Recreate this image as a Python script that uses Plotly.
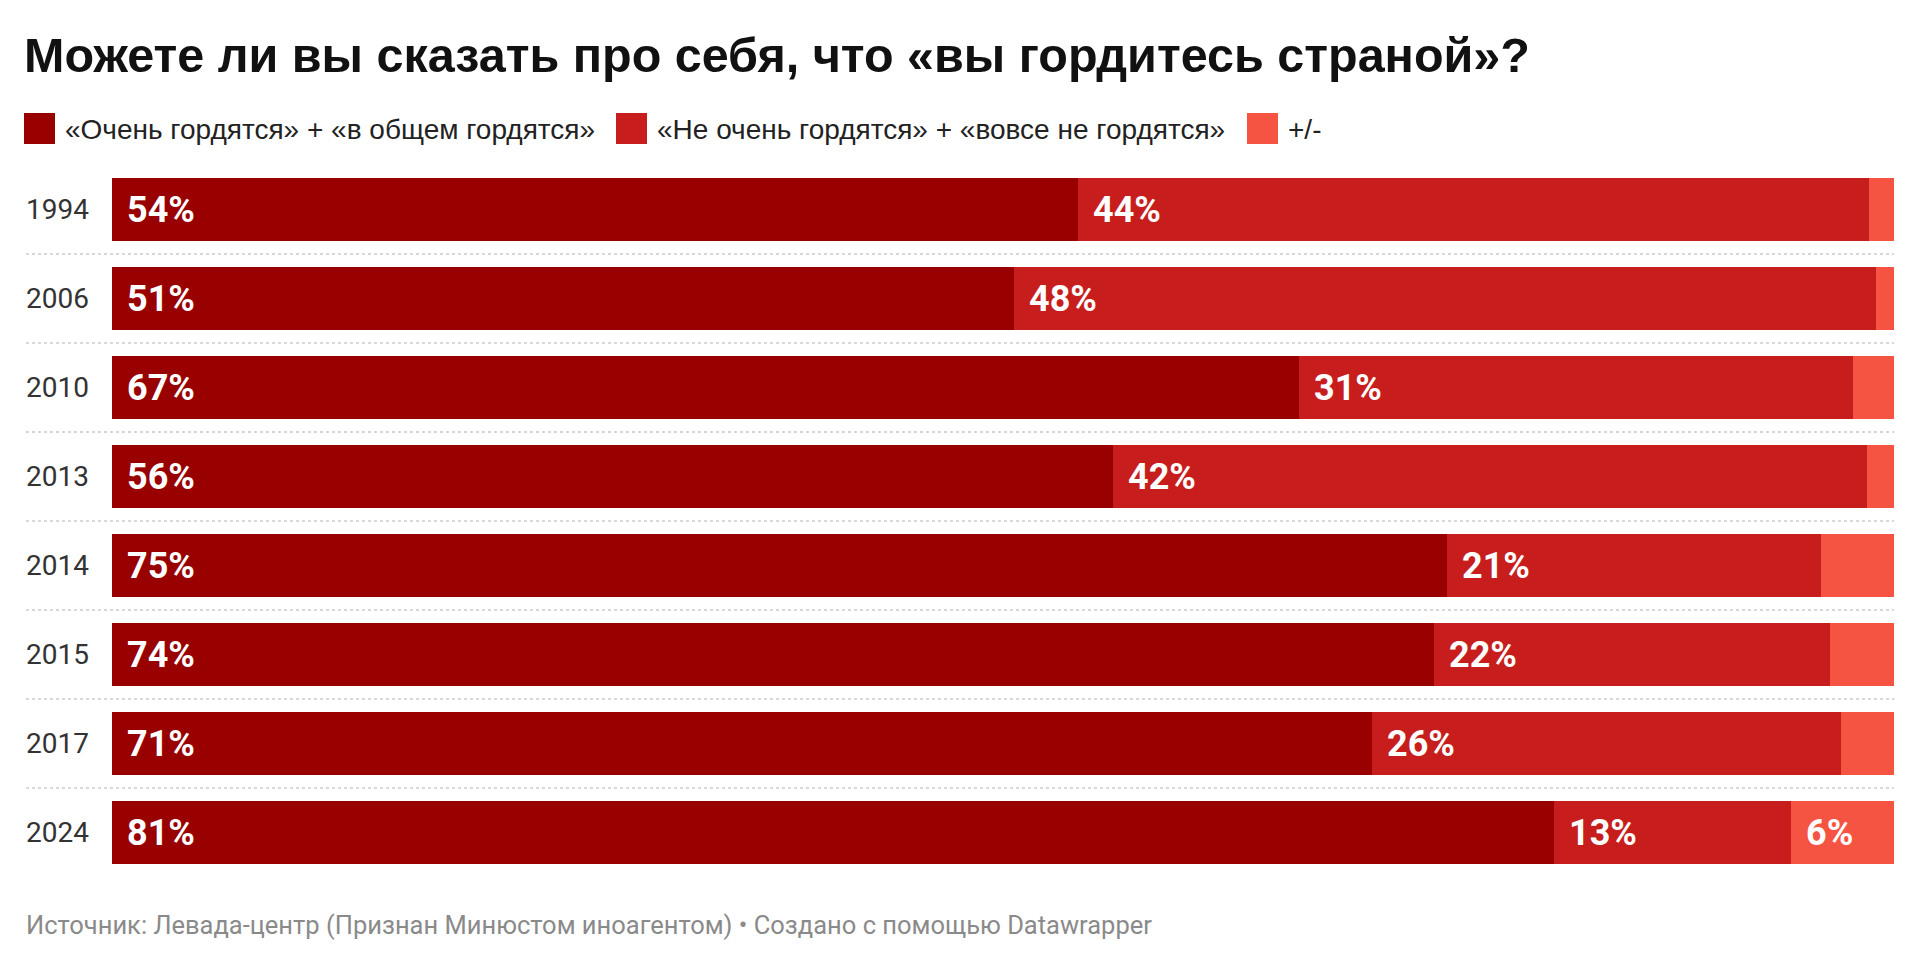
import plotly.graph_objects as go

# ---- data ----
years = ["1994", "2006", "2010", "2013", "2014", "2015", "2017", "2024"]
proud = [54.2, 50.6, 66.6, 56.2, 74.9, 74.2, 70.7, 80.9]
not_proud = [44.4, 48.4, 31.1, 42.3, 21.0, 22.2, 26.3, 13.3]
unsure = [1.4, 1.0, 2.3, 1.5, 4.1, 3.6, 3.0, 5.8]
series_names = [
    "«Очень гордятся» + «в общем гордятся»",
    "«Не очень гордятся» + «вовсе не гордятся»",
    "+/-",
]
title_text = "Можете ли вы сказать про себя, что «вы гордитесь страной»?"
footer_text = "Источник: Левада-центр (Признан Минюстом иноагентом) • Создано с помощью Datawrapper"

colors = ["#990000", "#c71e1d", "#f65442"]
series = [proud, not_proud, unsure]

W, H = 1920, 965
L, R, T, B = 112, 26, 165, 88
PW, PH = W - L - R, H - T - B


def px(x):
    return (x - L) / PW


def py(y):
    return (H - B - y) / PH


ypos = list(range(len(years)))

fig = go.Figure()
for name, vals, col in zip(series_names, series, colors):
    fig.add_trace(go.Bar(
        y=ypos, x=vals, name=name, orientation="h",
        marker=dict(color=col, line=dict(width=0)),
        customdata=years,
        hovertemplate="%{customdata}: %{x}%<extra>" + name + "</extra>",
        showlegend=False,
    ))

annotations = []
shapes = []

# value labels
for i, yr in enumerate(years):
    base = 0.0
    for vals in series:
        v = vals[i]
        if v >= 5:
            annotations.append(dict(
                x=base, y=i, xref="x", yref="y", text=f"{round(v)}%",
                showarrow=False, xanchor="left", yanchor="middle", xshift=13,
                font=dict(family="Roboto", size=36, color="white", weight="bold"),
            ))
        base += v

# year labels
for i, yr in enumerate(years):
    annotations.append(dict(
        x=px(24), y=i, xref="paper", yref="y", text=yr, showarrow=False,
        xanchor="left", yanchor="middle",
        font=dict(family="Roboto", size=28, color="#333333"),
    ))

# separators
for i in range(len(years) - 1):
    shapes.append(dict(
        type="line", xref="paper", yref="y", x0=px(26), x1=1,
        y0=i + 0.5, y1=i + 0.5, line=dict(color="#cccccc", width=1.5, dash="dot"),
    ))

# legend
leg_sq_x = [24, 616, 1247]
for name, col, sx in zip(series_names, colors, leg_sq_x):
    shapes.append(dict(
        type="rect", xref="paper", yref="paper", x0=px(sx), x1=px(sx + 31),
        y0=py(144), y1=py(113), fillcolor=col, line=dict(width=0),
    ))
    annotations.append(dict(
        x=px(sx + 39), y=py(129), xref="paper", yref="paper", text=name,
        showarrow=False, xanchor="left", yanchor="middle",
        font=dict(family="Liberation Sans", size=28, color="#222222"),
    ))

# footer
annotations.append(dict(
    x=px(24), y=py(925), xref="paper", yref="paper", text=footer_text,
    showarrow=False, xanchor="left", yanchor="middle",
    font=dict(family="Roboto", size=25.5, color="#8a8a8a"),
))

fig.update_layout(
    width=W, height=H,
    margin=dict(l=L, r=R, t=T, b=B, pad=0),
    paper_bgcolor="white", plot_bgcolor="white",
    barmode="stack", bargap=0.29,
    title=dict(
        text=title_text, xref="container", yref="container",
        x=24 / W, y=1 - 55 / H, xanchor="left", yanchor="middle",
        font=dict(family="Liberation Sans", size=48.5, color="#111111", weight="bold"),
    ),
    xaxis=dict(range=[0, 100], visible=False, fixedrange=True),
    yaxis=dict(range=[len(years) - 0.5, -0.5], showticklabels=False,
               showgrid=False, zeroline=False, fixedrange=True),
    annotations=annotations, shapes=shapes,
)

fig.write_html("out.html", config={"displayModeBar": False})
